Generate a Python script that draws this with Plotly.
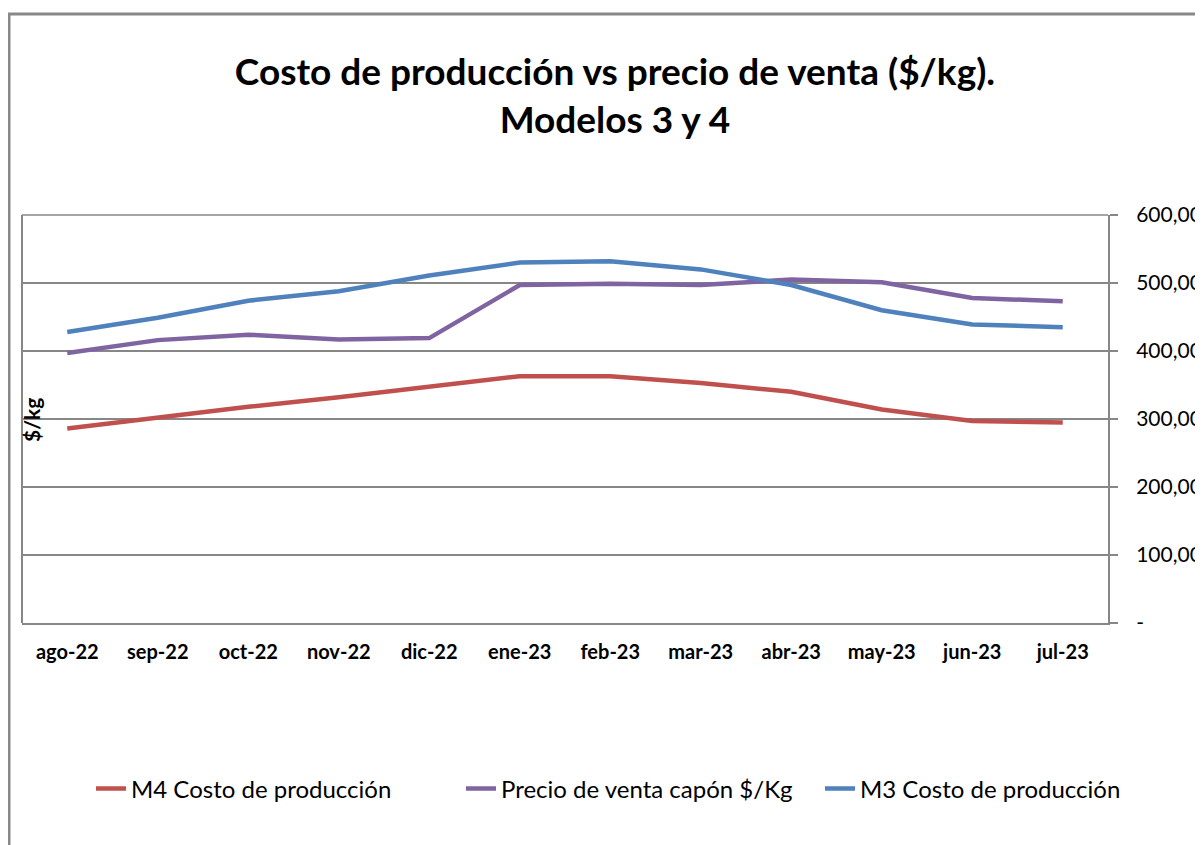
import plotly.graph_objects as go

months = ["ago-22", "sep-22", "oct-22", "nov-22", "dic-22", "ene-23",
          "feb-23", "mar-23", "abr-23", "may-23", "jun-23", "jul-23"]
m4_costo = [286, 302, 318, 332, 348, 363, 363, 353, 340, 314, 297, 295]
precio_venta = [397, 416, 424, 417, 419, 497, 499, 497, 505, 501, 478, 473]
m3_costo = [428, 449, 474, 488, 511, 530, 532, 520, 497, 460, 439, 435]

y_ticks = [0, 100, 200, 300, 400, 500, 600]
y_ticktext = ["-", "100,00", "200,00", "300,00", "400,00", "500,00", "600,00"]

# page body has an 8px margin; work in screen coords and convert
OFF = 8
W, H = 1203 - OFF, 845 - OFF
L, R, T, B = 22 - OFF, 1108 - OFF, 215 - OFF, 623 - OFF


def px(sx):
    return (sx - OFF - L) / (R - L)


def py(sy):
    return (B - (sy - OFF)) / (B - T)


fig = go.Figure()
fig.add_trace(go.Scatter(x=months, y=m4_costo, mode="lines", name="M4 Costo de producción",
                         line=dict(color="#C0504D", width=4.5), legend="legend"))
fig.add_trace(go.Scatter(x=months, y=precio_venta, mode="lines", name="Precio de venta capón $/Kg",
                         line=dict(color="#8064A2", width=4.5), legend="legend2"))
fig.add_trace(go.Scatter(x=months, y=m3_costo, mode="lines", name="M3 Costo de producción",
                         line=dict(color="#4F81BD", width=4.5), legend="legend3"))

grid = "#878787"
leg_font = dict(size=24, family="Lato, sans-serif", color="#000000")


def leg(sx):
    return dict(orientation="h", x=px(sx), xanchor="left", y=py(789), yanchor="middle",
                font=leg_font, bgcolor="rgba(0,0,0,0)", borderwidth=0)


fig.update_layout(
    width=W, height=H,
    margin=dict(l=L, r=W - R, t=T, b=H - B, autoexpand=False),
    paper_bgcolor="white", plot_bgcolor="white",
    font=dict(family="Lato, Carlito, sans-serif", color="#000000"),
    title=dict(text="<b>Costo de producción vs precio de venta ($/kg).<br>Modelos 3 y 4</b>",
               x=(615 - OFF) / W, xanchor="center", y=1 - (85 - OFF) / H, yanchor="middle",
               font=dict(size=37, family="Lato, sans-serif", color="#000000")),
    xaxis=dict(type="category", showgrid=False, showline=True, linecolor=grid, linewidth=2,
               ticks="", tickfont=dict(size=20, family="Lato, sans-serif", weight="bold"),
               ticklabelstandoff=10,
               range=[-0.5, 11.5], fixedrange=True, automargin=False),
    yaxis=dict(side="right", range=[0, 600], tickvals=y_ticks, ticktext=y_ticktext,
               showgrid=True, gridcolor=grid, gridwidth=1.5,
               showline=True, linecolor=grid, linewidth=2,
               ticks="outside", ticklen=8, tickcolor=grid, tickwidth=1.5,
               tickfont=dict(size=21, family="Lato, sans-serif"),
               ticklabelstandoff=14, zeroline=False, automargin=False, fixedrange=True),
    legend=leg(132 - 41),
    legend2=leg(502 - 41),
    legend3=leg(861 - 41),
    showlegend=True,
)

# plot-area left and top borders
fig.add_shape(type="line", xref="paper", yref="paper", x0=0, x1=0, y0=0, y1=1,
              line=dict(color=grid, width=2))
fig.add_shape(type="line", xref="paper", yref="paper", x0=0, x1=1, y0=1, y1=1,
              line=dict(color=grid, width=1.5))
# outer chart frame (extends past the right/bottom edges)
fig.add_shape(type="rect", xref="paper", yref="paper",
              x0=px(9), x1=px(1240), y0=py(880), y1=py(14),
              line=dict(color="#888888", width=3), layer="below")

fig.add_annotation(text="<b>$/kg</b>", textangle=-90, xref="paper", yref="paper",
                   x=px(31), y=py(420), xanchor="center", yanchor="middle",
                   showarrow=False, font=dict(size=21, family="Lato, sans-serif", color="#000000"))

fig.write_html("out.html")
